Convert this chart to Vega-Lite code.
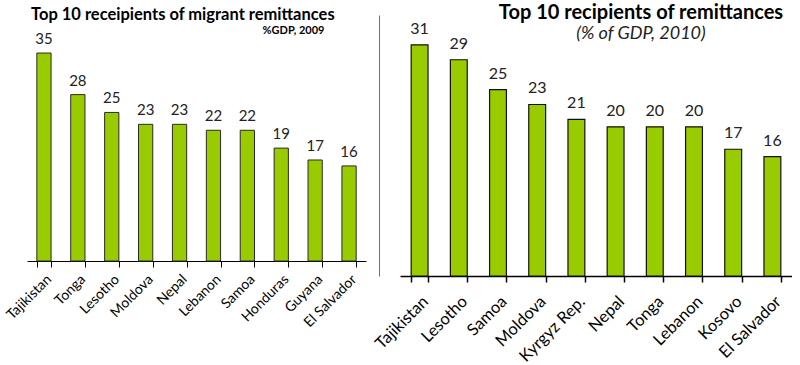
{
  "$schema": "https://vega.github.io/schema/vega-lite/v6.json",
  "padding": {"left": 3, "top": 3, "right": 0, "bottom": 0},
  "spacing": 6,
  "config": {"view": {"stroke": null}, "font": "Lato", "background": "white"},
  "datasets": {
    "y2009": [
      {"country": "Tajikistan", "value": 35},
      {"country": "Tonga", "value": 28},
      {"country": "Lesotho", "value": 25},
      {"country": "Moldova", "value": 23},
      {"country": "Nepal", "value": 23},
      {"country": "Lebanon", "value": 22},
      {"country": "Samoa", "value": 22},
      {"country": "Honduras", "value": 19},
      {"country": "Guyana", "value": 17},
      {"country": "El Salvador", "value": 16}
    ],
    "y2010": [
      {"country": "Tajikistan", "value": 31},
      {"country": "Lesotho", "value": 29},
      {"country": "Samoa", "value": 25},
      {"country": "Moldova", "value": 23},
      {"country": "Kyrgyz Rep.", "value": 21},
      {"country": "Nepal", "value": 20},
      {"country": "Tonga", "value": 20},
      {"country": "Lebanon", "value": 20},
      {"country": "Kosovo", "value": 17},
      {"country": "El Salvador", "value": 16}
    ]
  },
  "hconcat": [
    {
      "width": 339,
      "height": 246,
      "data": {"name": "y2009"},
      "title": {"text": "Top 10 receipients of migrant remittances", "anchor": "start", "frame": "group", "fontSize": 16.5, "fontWeight": "bold", "color": "black", "offset": -8, "dx": 4},
      "encoding": {
        "x": {
          "field": "country", "type": "nominal", "sort": null,
          "scale": {"paddingInner": 0.58, "paddingOuter": 0.29},
          "axis": {"title": null, "labelAngle": -45, "labelFontSize": 14, "labelColor": "black", "labelPadding": 5, "domainColor": "black", "tickColor": "black", "tickSize": 6, "tickBand": "extent"}
        }
      },
      "layer": [
        {
          "mark": {"type": "bar", "fill": "#99cc00", "stroke": "#2a2a2a", "strokeWidth": 1},
          "encoding": {
            "y": {
              "field": "value", "type": "quantitative", "scale": {"domain": [0, 41.4], "nice": false},
              "axis": {"orient": "right", "domain": false, "ticks": false, "labels": false, "grid": false, "title": "%GDP, 2009", "titleAngle": 0, "titleX": -73, "titleY": 15, "titleAlign": "center", "titleBaseline": "middle", "titleFontSize": 11, "titleFontWeight": "bold", "titleColor": "black"}
            }
          }
        },
        {
          "mark": {"type": "text", "dy": -14, "fontSize": 15, "color": "#222"},
          "encoding": {
            "y": {"field": "value", "type": "quantitative"},
            "text": {"field": "value", "type": "quantitative"}
          }
        }
      ]
    },
    {
      "width": 392,
      "height": 261,
      "data": {"name": "y2010"},
      "title": {"text": "Top 10 recipients of remittances", "subtitle": "(% of GDP, 2010)", "anchor": "middle", "dx": 45, "fontSize": 20, "fontWeight": "bold", "color": "black", "subtitleFontSize": 18, "subtitleFontStyle": "italic", "subtitleColor": "#222", "subtitlePadding": 2, "offset": -28},
      "encoding": {
        "x": {
          "field": "country", "type": "nominal", "sort": null,
          "scale": {"paddingInner": 0.57, "paddingOuter": 0.285},
          "axis": {"title": null, "labelAngle": -45, "labelFontSize": 16.5, "labelColor": "black", "labelPadding": 11, "domainColor": "black", "domainWidth": 1.5, "tickColor": "black", "tickSize": 6, "tickWidth": 1.5, "tickBand": "extent"}
        }
      },
      "layer": [
        {
          "mark": {"type": "bar", "fill": "#99cc00", "stroke": "#111", "strokeWidth": 1.2},
          "encoding": {
            "y": {
              "field": "value", "type": "quantitative", "scale": {"domain": [0, 35], "nice": false},
              "axis": {"orient": "left", "offset": 21, "domainColor": "#c0504d", "domainWidth": 1, "ticks": false, "labels": false, "grid": false, "title": null}
            }
          }
        },
        {
          "mark": {"type": "text", "dy": -16, "fontSize": 16, "color": "#222"},
          "encoding": {
            "y": {"field": "value", "type": "quantitative"},
            "text": {"field": "value", "type": "quantitative"}
          }
        }
      ]
    }
  ]
}
